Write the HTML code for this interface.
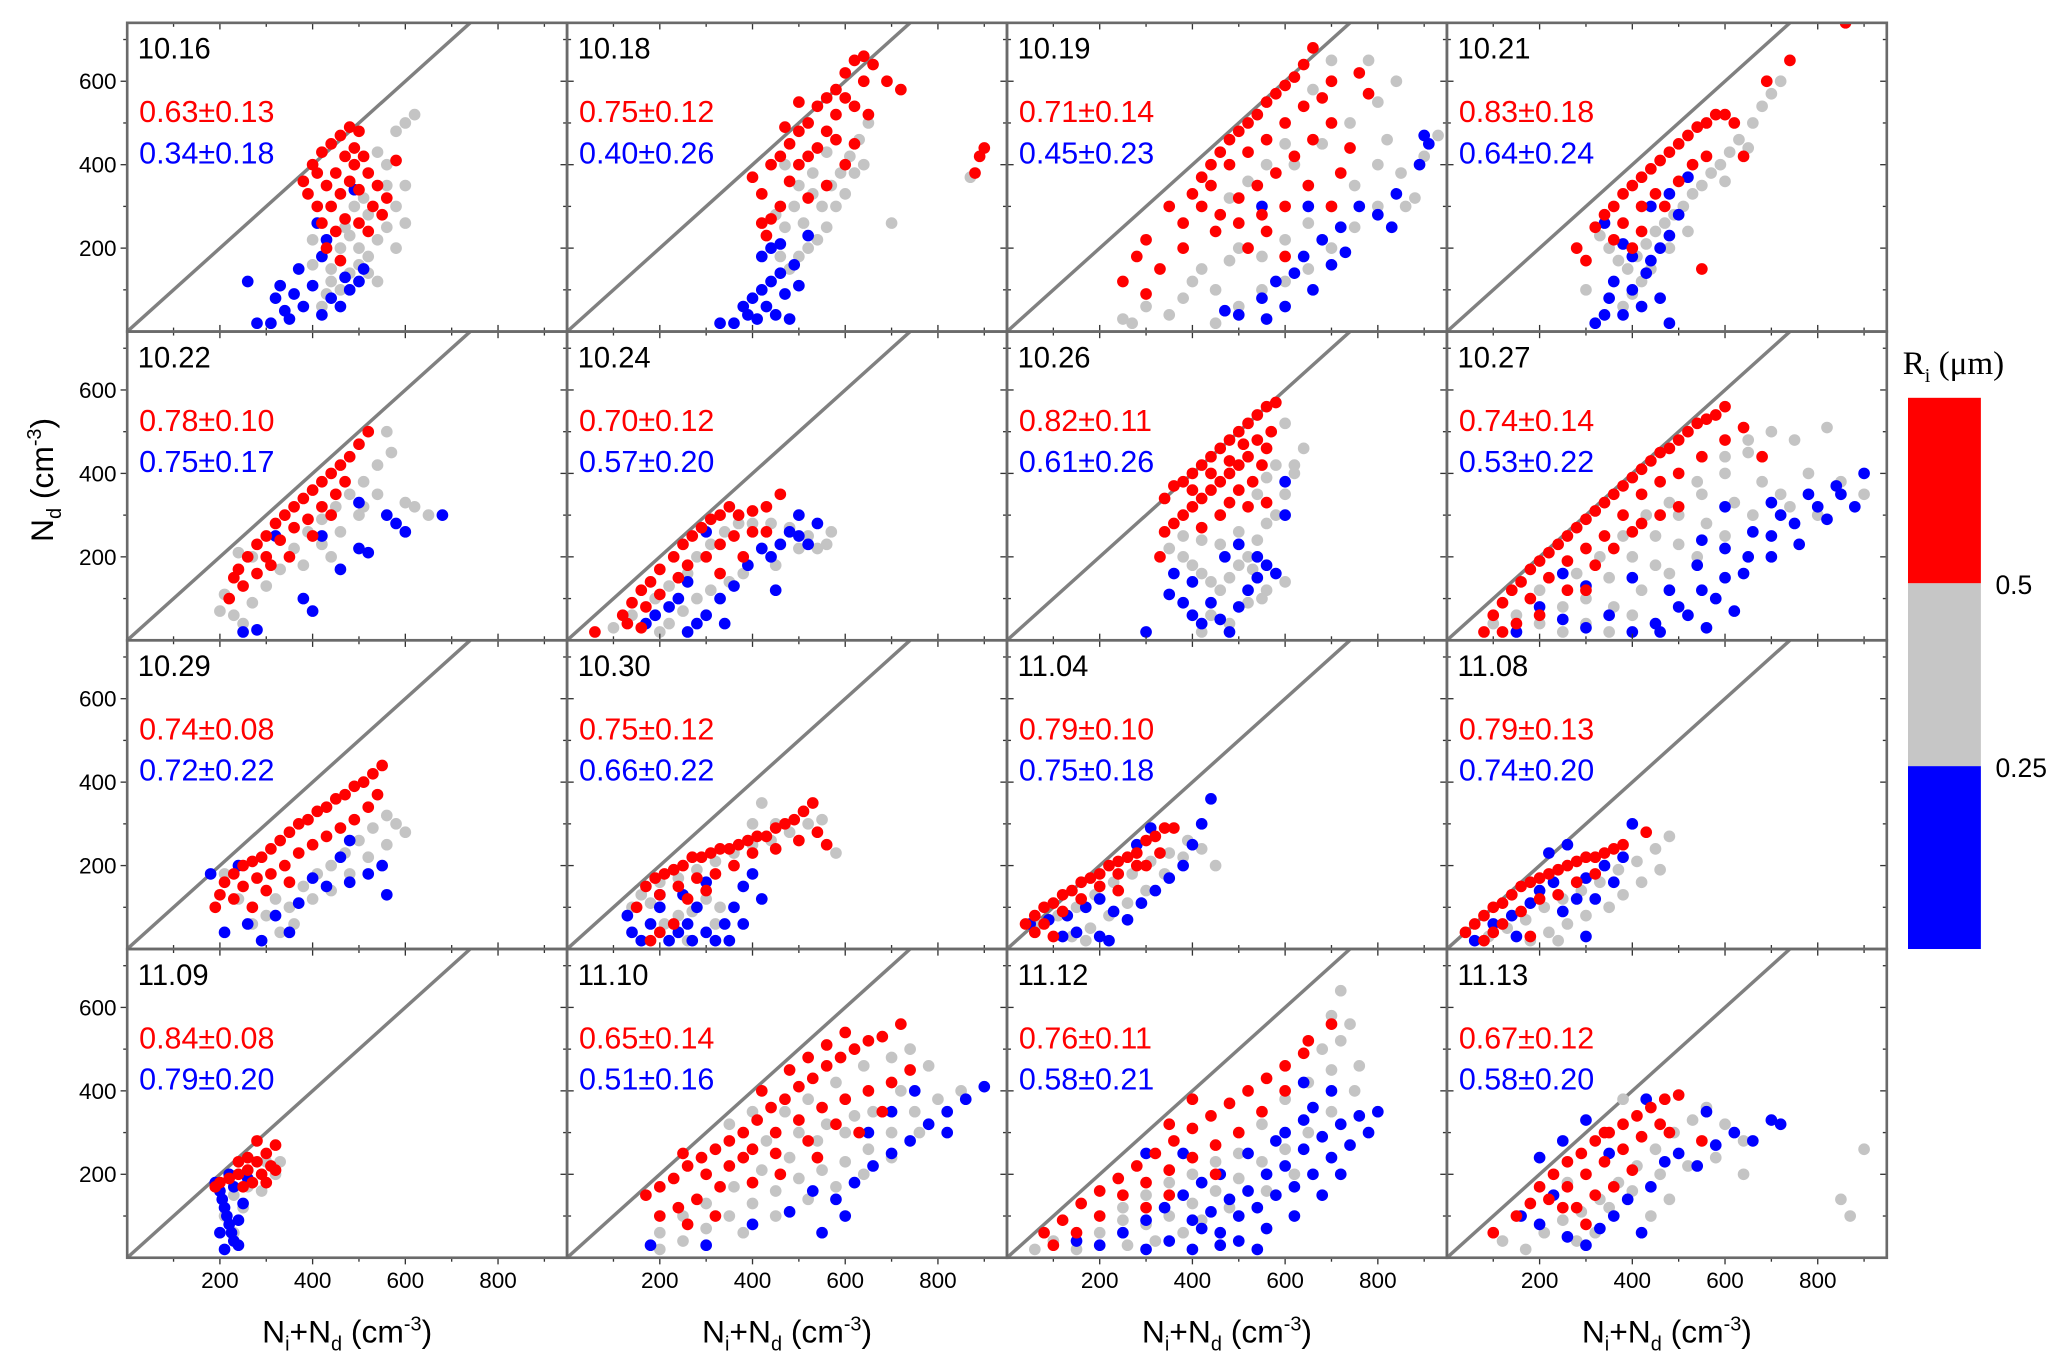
<!DOCTYPE html>
<html><head><meta charset="utf-8">
<style>
html,body{margin:0;padding:0;background:#fff;}
svg{display:block;}
text{font-family:"Liberation Sans",sans-serif;}
</style></head>
<body>
<svg id="chart" width="2067" height="1372" viewBox="0 0 1560 1035" xmlns="http://www.w3.org/2000/svg">
<g id="panels"></g>
<g>
<text transform="translate(40,362) rotate(-90)" font-size="24" text-anchor="middle">N<tspan font-size="15" dy="6">d</tspan><tspan dy="-6"> (cm</tspan><tspan font-size="15" dy="-9">-3</tspan><tspan dy="9">)</tspan></text>
</g>
<g>
<text x="1436" y="282" font-size="25" style="font-family:'Liberation Serif',serif">R<tspan font-size="15" dy="6">i</tspan><tspan dy="-6"> (μm)</tspan></text>
<rect x="1440" y="300" width="55" height="140" fill="#ff0000"/>
<rect x="1440" y="440" width="55" height="138" fill="#c6c6c6"/>
<rect x="1440" y="578" width="55" height="138" fill="#0000ff"/>
<text x="1506" y="448" font-size="20">0.5</text>
<text x="1506" y="586" font-size="20">0.25</text>
</g>
</svg>
<script>
const dates=["10.16","10.18","10.19","10.21","10.22","10.24","10.26","10.27","10.29","10.30","11.04","11.08","11.09","11.10","11.12","11.13"];
const redStats=["0.63±0.13","0.75±0.12","0.71±0.14","0.83±0.18","0.78±0.10","0.70±0.12","0.82±0.11","0.74±0.14","0.74±0.08","0.75±0.12","0.79±0.10","0.79±0.13","0.84±0.08","0.65±0.14","0.76±0.11","0.67±0.12"];
const blueStats=["0.34±0.18","0.40±0.26","0.45±0.23","0.64±0.24","0.75±0.17","0.57±0.20","0.61±0.26","0.53±0.22","0.72±0.22","0.66±0.22","0.75±0.18","0.74±0.20","0.79±0.20","0.51±0.16","0.58±0.21","0.58±0.20"];
const xTicks=[200,400,600,800];
const yTicks=[200,400,600];
const redPts=[
[[380,360],[400,400],[420,430],[440,450],[460,470],[480,490],[500,480],[390,330],[410,300],[430,350],[450,380],[470,420],[490,440],[510,420],[520,380],[540,350],[530,300],[560,320],[580,410],[440,300],[460,330],[480,360],[500,340],[470,270],[450,240],[420,260],[500,260],[520,240],[490,400],[410,380],[430,200],[460,170],[550,280]],
[[400,370],[420,330],[440,400],[460,420],[480,450],[500,480],[520,500],[540,540],[560,560],[580,580],[600,620],[620,650],[640,660],[660,640],[690,600],[720,580],[600,560],[580,520],[620,540],[640,600],[560,480],[540,440],[520,420],[500,400],[480,360],[460,300],[440,270],[420,260],[520,320],[560,350],[600,400],[620,450],[500,550],[470,490],[430,230],[580,460],[650,520],[880,380],[890,420],[900,440]],
[[400,330],[420,370],[440,400],[460,430],[480,460],[500,480],[520,500],[540,520],[560,550],[580,570],[600,590],[620,610],[640,640],[660,680],[700,600],[680,560],[640,540],[600,500],[560,460],[520,430],[480,400],[440,350],[420,300],[460,280],[500,320],[540,350],[580,380],[620,420],[660,460],[700,500],[740,440],[720,380],[650,350],[600,300],[550,280],[500,260],[450,240],[380,260],[350,300],[300,220],[280,180],[250,120],[330,150],[300,90],[380,200],[520,200],[560,240],[600,180],[700,300],[780,570],[760,620]],
[[280,200],[300,170],[320,250],[340,280],[360,300],[380,330],[400,350],[420,370],[440,390],[460,410],[480,430],[500,450],[520,470],[540,490],[560,500],[580,520],[600,520],[620,500],[380,260],[420,300],[450,330],[470,300],[500,360],[530,400],[560,420],[420,240],[400,200],[360,220],[640,420],[550,150],[690,600],[740,650],[860,740]],
[[220,100],[230,150],[240,170],[260,200],[280,230],[300,250],[320,280],[340,300],[360,320],[380,340],[400,360],[420,380],[440,400],[460,420],[480,440],[500,470],[520,500],[300,200],[330,240],[360,270],[390,290],[420,320],[450,350],[470,380],[350,200],[280,160],[310,180],[400,250],[250,130],[440,300]],
[[60,20],[120,60],[140,90],[160,120],[180,140],[200,170],[230,200],[250,230],[270,250],[290,270],[310,290],[330,300],[350,320],[370,300],[400,310],[430,320],[460,350],[430,260],[400,260],[360,250],[330,230],[300,200],[260,180],[240,150],[200,110],[170,80],[130,40],[160,30],[380,200],[330,160]],
[[340,340],[360,370],[380,380],[400,400],[420,420],[440,440],[460,460],[480,480],[500,500],[520,520],[540,540],[560,560],[580,570],[540,480],[520,440],[500,420],[480,400],[460,380],[440,360],[420,340],[400,320],[380,300],[360,280],[340,260],[500,360],[530,380],[550,420],[560,460],[570,500],[460,300],[420,270],[480,330],[520,320],[330,200],[560,330],[400,360],[440,400],[480,430],[510,470]],
[[80,20],[100,60],[120,90],[140,120],[160,140],[180,170],[200,190],[220,210],[240,230],[260,250],[280,270],[300,290],[320,310],[340,330],[360,350],[380,370],[400,390],[420,410],[440,430],[460,450],[480,460],[500,480],[520,500],[540,520],[560,530],[580,540],[600,560],[180,100],[220,150],[260,190],[300,220],[340,250],[380,300],[420,350],[460,380],[500,400],[550,440],[600,480],[640,510],[320,180],[360,220],[400,260],[260,120],[150,40],[120,20],[200,60],[300,120],[460,300],[500,320],[420,280],[680,440]],
[[190,100],[200,130],[210,160],[230,180],[250,200],[270,210],[290,220],[310,240],[330,260],[350,280],[370,300],[390,310],[410,330],[430,340],[450,360],[470,370],[490,390],[510,400],[530,420],[550,440],[250,150],[280,170],[310,180],[340,200],[370,230],[400,250],[430,270],[460,290],[490,310],[520,340],[540,370],[300,140],[350,160],[230,120],[270,100]],
[[150,100],[170,150],[190,170],[210,180],[230,190],[250,200],[270,220],[290,220],[310,230],[330,240],[350,240],[370,250],[390,260],[410,270],[430,270],[450,290],[470,300],[490,310],[510,330],[530,350],[400,230],[450,240],[500,260],[540,280],[560,250],[360,200],[320,180],[280,170],[240,150],[200,130],[260,120],[300,140],[230,60],[200,40],[180,20]],
[[40,60],[60,80],[80,100],[100,110],[120,130],[140,140],[160,160],[180,170],[200,180],[220,200],[240,210],[260,220],[280,230],[300,260],[320,270],[340,290],[360,290],[280,200],[240,180],[200,150],[160,120],[120,90],[80,60],[60,40],[100,30],[300,200],[330,230],[240,140]],
[[40,40],[60,60],[80,80],[100,100],[120,110],[140,130],[160,150],[180,160],[200,170],[220,180],[240,190],[260,200],[280,210],[300,220],[320,220],[340,230],[360,240],[380,250],[120,60],[160,90],[200,120],[240,130],[280,160],[320,180],[100,40],[80,20],[180,30],[430,280]],
[[190,170],[200,180],[220,190],[240,200],[260,210],[280,230],[300,250],[320,270],[310,220],[290,200],[270,180],[250,170],[300,180],[320,210],[280,280],[260,240],[240,230]],
[[170,150],[200,170],[230,190],[260,220],[290,240],[320,260],[350,280],[380,300],[410,330],[440,360],[470,380],[500,410],[530,430],[560,460],[590,480],[620,500],[650,520],[680,530],[720,560],[250,250],[300,200],[350,220],[400,260],[450,300],[500,330],[550,360],[600,380],[650,400],[700,420],[740,450],[420,400],[480,450],[520,480],[560,510],[600,540],[450,250],[520,280],[580,320],[380,240],[330,170],[280,140],[240,120],[200,100],[260,80],[320,100],[400,180],[460,200],[540,240],[630,300],[680,350]],
[[80,60],[120,90],[160,130],[200,160],[240,190],[280,220],[320,250],[360,280],[400,310],[440,340],[480,370],[520,400],[560,430],[600,460],[640,490],[250,150],[300,180],[350,210],[400,240],[450,270],[500,300],[300,120],[350,150],[200,100],[150,60],[100,30],[450,200],[550,350],[600,400],[650,520],[700,560],[400,380],[350,320]],
[[100,60],[150,100],[180,130],[200,170],[230,200],[260,230],[290,250],[320,280],[350,300],[380,320],[410,340],[440,360],[470,380],[500,390],[260,170],[300,200],[340,230],[380,260],[420,290],[460,320],[280,120],[320,150],[360,170],[400,210],[300,80],[250,120],[340,300],[480,300],[550,280],[220,140]]
];
const grayPts=[
[[400,220],[420,180],[440,150],[460,200],[480,230],[500,200],[520,180],[540,220],[560,250],[580,300],[600,350],[560,400],[540,430],[580,480],[600,500],[620,520],[490,300],[510,320],[470,250],[440,120],[460,100],[480,140],[500,160],[520,140],[540,120],[430,90],[400,160],[420,60],[600,260],[580,200],[520,280],[560,350]],
[[450,280],[470,250],[490,300],[510,260],[530,330],[550,300],[570,350],[590,380],[610,420],[630,460],[650,500],[620,380],[580,300],[540,220],[520,200],[500,180],[480,150],[460,180],[560,250],[600,330],[640,400],[700,260],[560,430],[530,380],[500,350],[470,400],[870,370]],
[[300,60],[250,30],[270,20],[350,40],[380,80],[400,120],[420,150],[450,100],[480,170],[500,200],[550,180],[600,220],[650,260],[700,300],[750,350],[800,400],[850,380],[900,420],[930,470],[860,300],[800,300],[750,250],[700,200],[650,150],[600,120],[550,100],[500,60],[450,20],[620,400],[680,450],[740,500],[800,550],[840,600],[780,650],[700,650],[660,580],[560,400],[600,450],[520,360],[480,320],[880,320],[820,460]],
[[330,230],[350,200],[370,170],[390,150],[410,180],[430,210],[450,240],[470,260],[490,280],[510,300],[530,330],[550,350],[570,380],[590,400],[610,430],[630,460],[660,500],[680,540],[700,570],[650,440],[600,360],[440,150],[420,120],[400,90],[380,60],[300,100],[480,200],[520,240],[720,600]],
[[200,70],[210,110],[230,60],[250,40],[270,90],[300,130],[330,170],[360,220],[390,260],[420,290],[450,320],[480,350],[510,380],[540,420],[570,450],[600,330],[620,320],[650,300],[560,500],[500,300],[460,260],[380,180],[420,230],[440,200],[510,320],[540,350],[270,200],[240,210]],
[[100,30],[140,60],[190,100],[220,130],[260,160],[280,200],[310,230],[340,260],[370,280],[400,280],[440,280],[480,270],[520,250],[560,230],[570,260],[540,220],[500,220],[460,230],[420,220],[380,160],[350,140],[310,120],[280,100],[250,70],[220,40],[200,20],[450,180]],
[[350,220],[380,200],[400,180],[420,160],[440,140],[460,120],[480,150],[500,180],[520,200],[540,240],[560,280],[580,300],[600,350],[620,420],[640,460],[600,520],[580,420],[560,390],[540,350],[500,260],[460,230],[420,240],[380,250],[440,60],[480,40],[520,90],[550,100],[420,20],[600,140],[560,120],[620,400],[530,170]],
[[100,40],[150,60],[200,40],[250,80],[300,100],[350,150],[400,200],[450,250],[500,300],[550,350],[600,400],[650,450],[700,500],[750,480],[820,510],[780,400],[720,350],[660,300],[600,250],[540,200],[480,160],[420,120],[360,80],[300,40],[250,20],[350,20],[400,60],[450,180],[500,230],[560,280],[620,330],[680,380],[740,320],[800,300],[850,380],[900,350],[280,160],[330,200],[380,250],[430,300],[480,330],[540,380],[600,440],[650,480],[200,120],[150,20]],
[[210,180],[240,120],[270,60],[300,80],[320,120],[350,100],[380,150],[410,180],[440,200],[470,230],[500,260],[530,290],[560,320],[580,300],[600,280],[560,250],[520,220],[480,180],[440,140],[400,120],[360,60],[330,40]],
[[140,100],[160,130],[180,110],[200,160],[240,170],[280,190],[320,210],[360,230],[400,250],[440,260],[480,280],[520,300],[550,310],[580,230],[450,300],[400,300],[420,350],[300,120],[270,90],[240,80],[330,100],[210,60],[260,20],[320,60]],
[[70,60],[110,80],[150,100],[190,130],[230,160],[270,180],[310,210],[350,230],[390,260],[420,240],[450,200],[380,220],[340,180],[300,140],[260,110],[220,80],[180,50],[140,30],[170,20]],
[[90,30],[130,50],[170,70],[210,100],[250,120],[290,140],[330,160],[370,190],[410,210],[450,240],[480,270],[460,190],[420,160],[380,130],[350,100],[300,80],[260,60],[220,40],[180,20],[240,20]],
[[200,160],[230,150],[260,170],[290,160],[320,200],[330,230],[250,120],[210,100],[230,60],[300,230]],
[[200,60],[250,40],[300,70],[350,100],[400,130],[450,160],[500,190],[550,210],[600,230],[650,260],[700,300],[750,350],[800,380],[850,400],[780,460],[720,400],[660,350],[600,300],[540,280],[480,240],[420,210],[360,170],[300,130],[250,100],[200,20],[380,60],[450,100],[520,140],[580,170],[640,200],[700,240],[760,300],[470,350],[520,380],[580,420],[640,460],[700,480],[350,320],[400,350],[560,320],[620,340],[740,500],[430,280],[500,300]],
[[60,20],[100,40],[150,20],[200,60],[250,90],[300,80],[350,100],[400,130],[450,160],[500,190],[550,230],[600,260],[650,300],[700,350],[750,400],[700,450],[650,420],[600,380],[550,320],[500,250],[450,230],[400,200],[350,180],[300,150],[250,120],[700,580],[720,640],[680,500],[760,460],[620,200],[560,160],[480,120],[420,90],[380,60],[320,40],[260,30],[720,520],[740,560]],
[[120,40],[170,20],[210,60],[250,90],[290,110],[330,140],[370,180],[410,220],[450,260],[490,300],[530,330],[560,360],[600,320],[640,280],[580,240],[520,220],[460,200],[400,160],[350,120],[320,60],[280,40],[440,100],[480,140],[640,200],[850,140],[870,100],[900,260],[260,180],[380,380]]
];
const bluePts=[
[[260,120],[280,20],[310,20],[320,80],[330,110],[340,50],[350,30],[360,90],[380,60],[370,150],[400,110],[420,40],[440,80],[460,60],[480,100],[470,130],[500,120],[430,220],[420,180],[410,260],[490,340],[510,150]],
[[330,20],[360,20],[380,60],[390,40],[400,80],[410,30],[420,100],[430,60],[440,120],[450,40],[460,140],[470,90],[480,30],[490,160],[500,110],[420,180],[440,200],[520,230],[460,210]],
[[470,50],[500,40],[550,80],[580,120],[620,140],[640,180],[680,220],[720,250],[760,300],[800,280],[840,330],[660,100],[600,60],[560,30],[700,160],[730,190],[900,470],[910,450],[890,400],[830,250],[650,300],[550,300]],
[[320,20],[340,40],[350,80],[360,120],[380,40],[400,100],[420,60],[430,140],[440,170],[460,200],[480,230],[400,180],[380,210],[340,260],[440,300],[480,330],[500,280],[520,370],[460,80],[480,20]],
[[250,20],[280,25],[380,100],[400,70],[460,170],[500,220],[520,210],[560,300],[580,280],[600,260],[680,300],[420,250],[320,250],[500,330]],
[[170,40],[190,60],[220,80],[240,100],[260,140],[280,40],[300,60],[330,100],[360,130],[390,180],[420,220],[440,200],[460,230],[480,260],[500,250],[520,230],[540,280],[500,300],[300,260],[450,120],[340,40],[260,20]],
[[300,20],[350,110],[380,90],[400,60],[420,40],[440,90],[460,50],[480,20],[500,80],[520,120],[540,150],[560,180],[580,160],[600,300],[600,380],[540,200],[400,140],[360,160],[470,200],[500,230]],
[[150,20],[200,80],[250,50],[300,30],[350,60],[400,20],[450,40],[500,80],[550,120],[600,150],[650,200],[700,250],[750,280],[800,320],[850,350],[900,400],[880,320],[820,290],[760,230],[700,200],[640,160],[580,100],[520,60],[460,20],[480,120],[540,180],[600,220],[660,260],[720,300],[780,350],[840,370],[550,240],[600,320],[700,330],[400,150],[300,130],[250,160],[620,70],[560,30]],
[[180,180],[210,40],[260,60],[290,20],[320,80],[350,40],[370,110],[400,170],[430,150],[460,220],[480,160],[520,180],[550,200],[560,130],[480,260],[240,200]],
[[130,80],[140,40],[160,20],[180,60],[200,100],[220,20],[240,40],[260,60],[280,100],[300,40],[320,20],[340,60],[360,100],[380,150],[400,180],[420,120],[300,160],[250,130],[200,130],[350,20],[270,20],[380,60]],
[[50,60],[90,70],[130,80],[170,100],[200,120],[230,90],[260,70],[290,110],[320,140],[350,170],[380,200],[400,250],[420,300],[440,360],[310,290],[280,250],[150,40],[200,30],[220,20],[120,30]],
[[60,20],[100,60],[140,80],[180,110],[200,140],[230,160],[250,90],[280,120],[300,170],[320,120],[340,200],[360,160],[380,220],[400,300],[260,250],[220,230],[150,30],[300,30]],
[[190,180],[200,160],[205,140],[210,120],[215,100],[220,80],[225,60],[230,40],[210,20],[240,30],[240,90],[250,130],[230,170],[260,190],[220,200],[200,60]],
[[180,30],[300,30],[400,80],[480,110],[530,160],[580,140],[620,180],[660,220],[700,250],[740,280],[780,320],[820,350],[860,380],[900,410],[650,300],[700,350],[600,100],[550,60],[750,400],[820,300]],
[[150,40],[200,30],[250,60],[300,20],[350,40],[400,20],[420,70],[460,60],[500,100],[540,120],[580,150],[620,170],[660,200],[700,240],[740,270],[780,300],[800,350],[760,340],[720,320],[680,290],[640,260],[600,220],[560,200],[520,160],[480,140],[440,110],[400,90],[500,40],[560,70],[620,100],[680,150],[720,200],[460,200],[420,180],[380,150],[340,120],[300,90],[520,250],[580,280],[640,330],[600,300],[660,360],[540,20],[460,30],[700,400],[640,420],[380,250],[300,250]],
[[160,100],[200,80],[230,150],[260,50],[300,30],[330,70],[360,100],[390,140],[420,60],[440,170],[470,230],[500,250],[540,220],[580,270],[620,300],[660,280],[700,330],[720,320],[560,350],[430,380],[350,250],[300,330],[250,280],[200,240]]
];

const NS="http://www.w3.org/2000/svg";
const PX0=96, PY0=17, PW=332, PH=233;
const XMAX=949, YMAX=740;
function mk(tag,attrs,parent){const e=document.createElementNS(NS,tag);for(const k in attrs)e.setAttribute(k,attrs[k]);parent.appendChild(e);return e;}
const root=document.getElementById('panels');
for(let i=0;i<16;i++){
  const col=i%4,row=Math.floor(i/4);
  const left=PX0+col*PW, top=PY0+row*PH, bottom=top+PH;
  const sx=v=>left+v/XMAX*PW, sy=v=>bottom-v/YMAX*PH;
  const g=mk('g',{},root);
  
  
  const clip='clip'+i;
  const cp=mk('clipPath',{id:clip},g);mk('rect',{x:left,y:top,width:PW,height:PH},cp);
  const line=mk('line',{x1:sx(0),y1:sy(0),x2:sx(YMAX),y2:sy(YMAX),stroke:'#808080','stroke-width':2.6,'clip-path':'url(#'+clip+')'},g);
  
  
  const pts=mk('g',{'clip-path':'url(#'+clip+')'},g);
  
  
  [[grayPts,'#c4c4c4'],[bluePts,'#0000ff'],[redPts,'#ff0000']].forEach(([arr,c])=>{
    arr[i].forEach(p=>{const d=mk('circle',{cx:sx(p[0]),cy:sy(p[1]),r:4.4,fill:c},pts);
      
      });
  });
  for(let v=100;v<XMAX;v+=100){const L=(v%200===0)?5:3;
    mk('line',{x1:sx(v),y1:bottom,x2:sx(v),y2:bottom+(row===3?L:-L),stroke:'#333','stroke-width':1},g);
    mk('line',{x1:sx(v),y1:top,x2:sx(v),y2:top+L,stroke:'#333','stroke-width':1},g);}
  for(let v=100;v<YMAX;v+=100){const L=(v%200===0)?5:3;
    mk('line',{x1:left,y1:sy(v),x2:left+(col===0?-L:L),y2:sy(v),stroke:'#333','stroke-width':1},g);
    mk('line',{x1:left+PW,y1:sy(v),x2:left+PW-L,y2:sy(v),stroke:'#333','stroke-width':1},g);}
  const fr=mk('rect',{x:left,y:top,width:PW,height:PH,fill:'none',stroke:'#6a6a6a','stroke-width':2},g);
  
  
  const t=mk('text',{x:left+8,y:top+27,'font-size':22},g);t.textContent=dates[i];
  
  
  const r=mk('text',{x:left+9,y:top+75,'font-size':23,fill:'#ff0000'},g);r.textContent=redStats[i];
  
  
  const b=mk('text',{x:left+9,y:top+106,'font-size':23,fill:'#0000ff'},g);b.textContent=blueStats[i];
  
  
  if(col===0){yTicks.forEach(v=>{const tl=mk('text',{x:left-8,y:sy(v)+6,'font-size':17,'text-anchor':'end'},g);tl.textContent=v;
    
    });}
  if(row===3){xTicks.forEach(v=>{const tl=mk('text',{x:sx(v),y:bottom+23,'font-size':17,'text-anchor':'middle'},g);tl.textContent=v;
    
    });
    const xt=mk('text',{x:left+166,y:bottom+64,'font-size':24,'text-anchor':'middle'},g);
    xt.innerHTML='N<tspan font-size="15" dy="6">i</tspan><tspan dy="-6">+N</tspan><tspan font-size="15" dy="6">d</tspan><tspan dy="-6"> (cm</tspan><tspan font-size="15" dy="-9">-3</tspan><tspan dy="9">)</tspan>';
    
    }
}
</script>
</body></html>
